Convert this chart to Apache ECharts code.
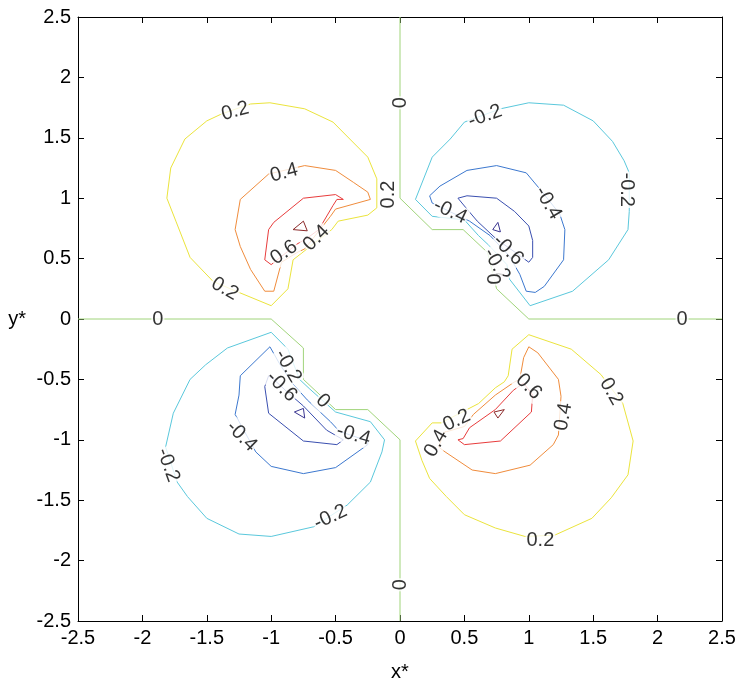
<!DOCTYPE html>
<html>
<head>
<meta charset="utf-8">
<script src="https://cdn.jsdelivr.net/npm/echarts@6/dist/echarts.min.js"></script>
<style>
  html, body { margin: 0; padding: 0; background: #fff; }
  #chart { width: 735px; height: 686px; }
</style>
</head>
<body>
<div id="chart"></div>
<script>
// contour levels and their colours
var levels = [-0.8, -0.6, -0.4, -0.2, 0, 0.2, 0.4, 0.6, 0.8];
var levelColors = ['#3a3591', '#3a4fb0', '#3c78cf', '#5ac8dc', '#a0d47a', '#ebe43c', '#f08c3c', '#e83c3c', '#8c2a2a'];

// upper-left lobe (positive)
var ul02 = [[-0.18,1.16],[-0.25,1.34],[-0.39,1.49],[-0.52,1.63],[-0.74,1.74],[-1.01,1.79],[-1.16,1.78],[-1.38,1.70],[-1.50,1.64],[-1.67,1.49],[-1.78,1.25],[-1.81,1.0],[-1.74,0.81],[-1.63,0.51],[-1.45,0.31],[-1.25,0.22],[-1.0,0.11],[-0.87,0.25],[-0.83,0.49],[-0.53,0.74],[-0.48,0.81],[-0.25,0.86],[-0.18,0.92],[-0.18,1.16]];
var ul04 = [[-0.74,1.27],[-0.5,1.23],[-0.36,1.13],[-0.25,1.05],[-0.23,0.99],[-0.5,0.91],[-0.54,0.85],[-0.74,0.58],[-0.8,0.55],[-0.92,0.47],[-0.98,0.23],[-1.05,0.23],[-1.16,0.41],[-1.24,0.6],[-1.28,0.74],[-1.24,0.99],[-1.02,1.2],[-0.74,1.27]];
var ul06 = [[-1.05,0.49],[-1.02,0.74],[-0.98,0.8],[-0.75,1.0],[-0.5,1.03],[-0.44,0.99],[-0.49,0.99],[-0.52,0.94],[-0.63,0.74],[-0.72,0.67],[-0.8,0.62],[-1.0,0.45],[-1.05,0.49]];
var ul08 = [[-0.83,0.74],[-0.75,0.81],[-0.72,0.73],[-0.83,0.74]];

// upper-right lobe (negative)
var ur02 = [[0.5,1.63],[0.78,1.74],[1.0,1.79],[1.27,1.77],[1.5,1.64],[1.65,1.47],[1.74,1.31],[1.78,1.21],[1.78,0.89],[1.77,0.74],[1.62,0.49],[1.34,0.23],[1.01,0.11],[0.85,0.33],[0.83,0.45],[0.7,0.6],[0.61,0.69],[0.5,0.82],[0.25,0.85],[0.12,0.99],[0.25,1.34],[0.39,1.49],[0.5,1.63]];
var ur04 = [[0.23,1.02],[0.31,1.1],[0.52,1.23],[0.75,1.27],[0.98,1.21],[1.09,1.07],[1.24,0.87],[1.28,0.74],[1.27,0.49],[1.12,0.27],[1.05,0.22],[0.98,0.23],[0.93,0.37],[0.85,0.52],[0.7,0.69],[0.54,0.81],[0.25,0.96],[0.23,1.02]];
var ur06 = [[0.45,1.0],[0.52,1.02],[0.75,1.0],[0.89,0.89],[1.0,0.77],[1.03,0.65],[1.03,0.51],[1.0,0.47],[0.91,0.54],[0.75,0.66],[0.6,0.81],[0.52,0.91],[0.45,1.0]];
var ur08 = [[0.72,0.74],[0.76,0.8],[0.78,0.72],[0.72,0.74]];

// lower-left lobe (negative)
var ll02 = [[-1.34,-0.24],[-1.0,-0.11],[-0.87,-0.25],[-0.78,-0.5],[-0.7,-0.58],[-0.5,-0.77],[-0.23,-0.85],[-0.12,-1.0],[-0.14,-1.1],[-0.23,-1.35],[-0.41,-1.54],[-0.67,-1.72],[-1.0,-1.8],[-1.25,-1.78],[-1.5,-1.65],[-1.65,-1.47],[-1.73,-1.35],[-1.82,-1.06],[-1.76,-0.78],[-1.63,-0.5],[-1.51,-0.38],[-1.34,-0.24]];
var ll04 = [[-1.01,-0.23],[-1.24,-0.47],[-1.25,-0.63],[-1.28,-0.79],[-1.12,-1.1],[-1.0,-1.22],[-0.75,-1.28],[-0.5,-1.23],[-0.25,-1.04],[-0.25,-1.01],[-0.47,-0.93],[-0.54,-0.85],[-0.72,-0.67],[-0.83,-0.54],[-0.93,-0.38],[-1.01,-0.23]];
var ll06 = [[-1.02,-0.47],[-1.05,-0.56],[-1.02,-0.78],[-0.75,-1.01],[-0.49,-1.04],[-0.44,-1.0],[-0.57,-0.92],[-0.75,-0.72],[-0.88,-0.6],[-0.98,-0.5],[-1.02,-0.47]];
var ll08 = [[-0.82,-0.77],[-0.75,-0.74],[-0.74,-0.82],[-0.82,-0.77]];

// lower-right lobe (positive)
var lr02 = [[0.12,-1.01],[0.25,-0.86],[0.32,-0.86],[0.61,-0.7],[0.74,-0.57],[0.81,-0.52],[0.84,-0.47],[0.87,-0.25],[1.0,-0.13],[1.33,-0.25],[1.56,-0.46],[1.73,-0.7],[1.81,-1.01],[1.77,-1.29],[1.64,-1.48],[1.49,-1.65],[1.2,-1.79],[0.97,-1.8],[0.74,-1.73],[0.5,-1.62],[0.36,-1.47],[0.23,-1.32],[0.17,-1.17],[0.12,-1.01]];
var lr04 = [[0.34,-0.94],[0.5,-0.89],[0.57,-0.79],[0.74,-0.63],[0.89,-0.52],[0.93,-0.5],[0.96,-0.32],[1.0,-0.23],[1.07,-0.28],[1.23,-0.5],[1.25,-0.64],[1.23,-0.96],[1.19,-1.04],[1.01,-1.21],[0.74,-1.28],[0.56,-1.25],[0.35,-1.1],[0.3,-1.06],[0.34,-0.94]];
var lr06 = [[0.45,-1.0],[0.49,-0.99],[0.54,-0.9],[0.74,-0.75],[0.88,-0.59],[0.96,-0.53],[1.03,-0.63],[1.02,-0.77],[0.78,-1.01],[0.5,-1.04],[0.45,-1.0]];
var lr08 = [[0.73,-0.77],[0.81,-0.75],[0.76,-0.82],[0.73,-0.77]];

// zero level
var zeroA = [[0,2.5],[0,1.0],[0.25,0.74],[0.49,0.74],[0.68,0.55],[0.75,0.25],[1.0,0],[2.5,0]];
var zeroB = [[-2.5,0],[-1.0,0],[-0.75,-0.24],[-0.75,-0.5],[-0.5,-0.75],[-0.25,-0.75],[0,-1.0],[0,-2.5]];

// inline contour labels: x, y, text, rotation
var contourLabels = [
    [-1.28, 1.72, '0.2', 15], [-0.09, 1.03, '0.2', 90], [-0.9, 1.21, '0.4', 15],
    [-0.65, 0.67, '0.4', 45], [-0.9, 0.55, '0.6', 35], [-1.36, 0.25, '0.2', -30],
    [0, 1.79, '0', 90], [-1.88, 0, '0', 0],
    [0.66, 1.68, '-0.2', 20], [1.76, 1.07, '-0.2', -90], [1.15, 0.96, '-0.4', -60],
    [0.39, 0.89, '-0.4', -25], [0.84, 0.57, '-0.6', -45], [0.75, 0.45, '-0.2', -60],
    [0.72, 0.33, '0', -90], [2.19, 0, '0', 0],
    [-1.8, -1.21, '-0.2', -70], [-0.87, -0.39, '-0.2', -60], [-0.92, -0.56, '-0.6', -45],
    [-0.6, -0.68, '0', -45], [-0.36, -0.96, '-0.4', -15], [-1.23, -0.97, '-0.4', -45],
    [-0.54, -1.64, '-0.2', 25], [0, -2.2, '0', 90],
    [0.44, -0.84, '0.2', 25], [0.28, -1.03, '0.4', 60], [1.0, -0.56, '0.6', -45],
    [1.27, -0.81, '0.4', 80], [1.64, -0.6, '0.2', -60], [1.09, -1.83, '0.2', 0]
];

var contours = [
    [ul02, 0.2], [ul04, 0.4], [ul06, 0.6], [ul08, 0.8],
    [ur02, -0.2], [ur04, -0.4], [ur06, -0.6], [ur08, -0.8],
    [ll02, -0.2], [ll04, -0.4], [ll06, -0.6], [ll08, -0.8],
    [lr02, 0.2], [lr04, 0.4], [lr06, 0.6], [lr08, 0.8],
    [zeroA, 0], [zeroB, 0]
];

var chart = echarts.init(document.getElementById('chart'));
var font = 'Liberation Sans, Arial, sans-serif';

var series = contours.map(function(c) {
    var col = levelColors[levels.indexOf(c[1])];
    return {
        type: 'line',
        data: c[0],
        showSymbol: false,
        silent: true,
        animation: false,
        lineStyle: { color: col, width: 1 },
        z: 2
    };
});

// labels drawn as text on invisible points, white box breaks the line like clabel
series.push({
    type: 'scatter',
    symbolSize: 1,
    itemStyle: { color: 'rgba(0,0,0,0)' },
    animation: false,
    silent: true,
    z: 5,
    data: contourLabels.map(function(l) {
        return { name: l[2], value: [l[0], l[1]], label: { rotate: l[3] } };
    }),
    label: {
        show: true,
        position: 'inside',
        formatter: '{b}',
        color: '#000',
        fontSize: 20,
        fontFamily: font,
        backgroundColor: '#fff',
        padding: [0, 1]
    },
    labelLayout: { hideOverlap: false }
});

function axisBase(extra) {
    var a = {
        type: 'value',
        min: -2.5,
        max: 2.5,
        interval: 0.5,
        splitLine: { show: false },
        axisLine: { show: true, onZero: false, lineStyle: { color: '#000', width: 1 } },
        axisTick: { show: true, inside: true, length: 6, lineStyle: { color: '#000' } },
        axisLabel: { color: '#000', fontSize: 20, fontFamily: font, margin: 7 }
    };
    for (var k in extra) a[k] = extra[k];
    return a;
}

chart.setOption({
    backgroundColor: '#fff',
    animation: false,
    grid: { left: 78, right: 13, top: 17, bottom: 65, outerBoundsMode: 'none', containLabel: false },
    xAxis: [
        axisBase({ position: 'bottom', name: 'x*', nameLocation: 'middle', nameGap: 41,
            nameTextStyle: { color: '#000', fontSize: 20, fontFamily: font } }),
        axisBase({ position: 'top', axisLabel: { show: false } })
    ],
    yAxis: [
        axisBase({ position: 'left', name: 'y*', nameLocation: 'middle', nameGap: 52, nameRotate: 0,
            nameTextStyle: { color: '#000', fontSize: 20, fontFamily: font } }),
        axisBase({ position: 'right', axisLabel: { show: false } })
    ],
    series: series
});
</script>
</body>
</html>
